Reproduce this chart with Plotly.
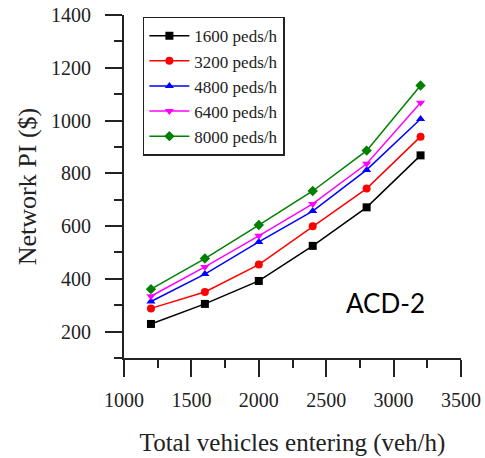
import plotly.graph_objects as go

vehicles = [1200, 1600, 2000, 2400, 2800, 3200]
series_names = ["1600 peds/h", "3200 peds/h", "4800 peds/h", "6400 peds/h", "8000 peds/h"]
pi_1600 = [229, 305, 392, 525, 671, 868]
pi_3200 = [288, 350, 454, 599, 742, 939]
pi_4800 = [314, 418, 540, 657, 813, 1006]
pi_6400 = [334, 445, 563, 684, 836, 1067]
pi_8000 = [361, 477, 604, 733, 886, 1133]

x_ticks = [1000, 1500, 2000, 2500, 3000, 3500]
y_ticks = [200, 400, 600, 800, 1000, 1200, 1400]

series = [pi_1600, pi_3200, pi_4800, pi_6400, pi_8000]
colors = ["#000000", "#ff0000", "#0000ff", "#ff00ff", "#008000"]
symbols = ["square", "circle", "triangle-up", "triangle-down", "diamond"]

fig = go.Figure()
for name, vals, c, s in zip(series_names, series, colors, symbols):
    fig.add_trace(go.Scatter(
        x=vehicles, y=vals, name=name, mode="lines+markers",
        line=dict(color=c, width=1.5),
        marker=dict(symbol=s, size=8, color=c),
    ))

serif = "Liberation Serif"
ink = "#222222"
fig.update_layout(
    width=485, height=458,
    margin=dict(l=124, r=24, t=15, b=100),
    paper_bgcolor="white", plot_bgcolor="white",
    font=dict(family=serif, size=20, color=ink),
    showlegend=True,
    legend=dict(
        x=0.056, y=0.995, xanchor="left", yanchor="top",
        bordercolor=ink, borderwidth=1.5,
        bgcolor="white",
        font=dict(family=serif, size=17, color=ink),
        tracegroupgap=0, itemwidth=40,
    ),
    annotations=[dict(
        text="ACD-2", xref="paper", yref="paper", x=0.777, y=0.16,
        xanchor="center", yanchor="middle", showarrow=False,
        font=dict(family="Lato", size=26, color="#000000"),
    )],
)
fig.update_xaxes(
    range=[1000, 3500], tickvals=x_ticks, ticktext=[str(v) for v in x_ticks],
    automargin=False,
    showgrid=False, zeroline=False, showline=True, linecolor=ink, linewidth=2,
    ticks="outside", ticklen=17, tickwidth=2, tickcolor=ink,
    ticklabelstandoff=6,
    tickfont=dict(family=serif, size=20, color=ink),
    minor=dict(dtick=250, ticks="outside", ticklen=8, tickwidth=2, tickcolor=ink),
    title=dict(text="Total vehicles entering (veh/h)", font=dict(family=serif, size=25, color=ink), standoff=23),
)
fig.update_yaxes(
    range=[100, 1400], tickvals=y_ticks, ticktext=[str(v) for v in y_ticks],
    automargin=False,
    showgrid=False, zeroline=False, showline=True, linecolor=ink, linewidth=2,
    ticks="outside", ticklen=17, tickwidth=2, tickcolor=ink,
    ticklabelstandoff=10,
    tickfont=dict(family=serif, size=20, color=ink),
    minor=dict(dtick=100, ticks="outside", ticklen=8, tickwidth=2, tickcolor=ink),
    title=dict(text="Network PI ($)", font=dict(family=serif, size=26, color=ink), standoff=7),
)
fig.write_html("out.html", config={"displayModeBar": False},
               post_script="document.body.style.margin='0';")
